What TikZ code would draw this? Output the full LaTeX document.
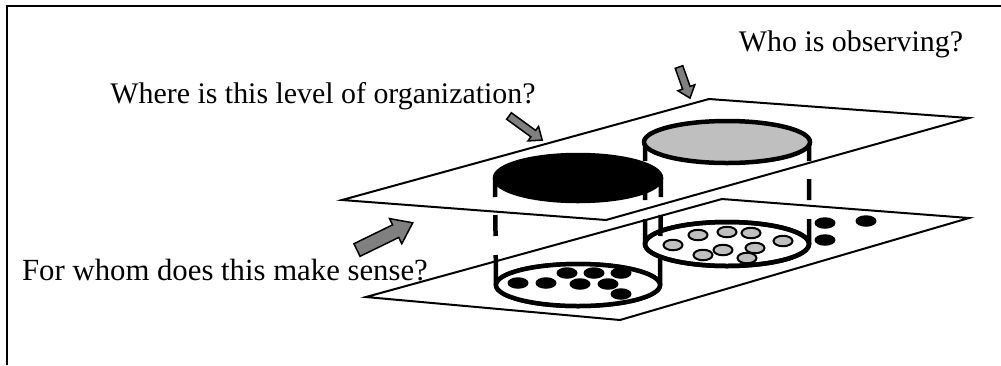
\documentclass[tikz,border=0pt]{standalone}
\usepackage{fontspec}
\setmainfont{Liberation Serif}
\usetikzlibrary{shapes.geometric}

\tikzset{
  plane/.style={draw, line width=0.4mm, line join=miter},
  lid/.style={ellipse, draw, line width=0.9mm, inner sep=0pt, outer sep=0pt},
  wall/.style={line width=0.9mm, dash pattern=on 3.8mm off 3.6mm on 4.2mm off 3.8mm on 8mm off 1mm},
  pointer/.style={draw, fill=black!50, line width=0.3mm, line join=miter},
  question/.style={font=\fontsize{17pt}{20pt}\selectfont, inner sep=0pt}
}

% tail x, tail y, angle, length, shaft half, head half, head length
\newcommand{\fatarrow}[7]{%
  \draw[pointer, shift={(#1,#2)}, rotate=#3]
    (0,-#5) -- (#4-#7,-#5) -- (#4-#7,-#6) -- (#4,0) -- (#4-#7,#6) -- (#4-#7,#5) -- (0,#5) -- cycle;}

\begin{document}
\begin{tikzpicture}[x=0.2mm, y=-0.2mm]

        \useasboundingbox (0,0) rectangle (1001,365);
        \draw[line width=0.4mm] (7,365) -- (7,6) -- (1001,6);

        % the two levels
        \draw[plane] (342,200) -- (709,99) -- (969,118) -- (606,220) -- cycle;
        \draw[plane] (366,297) -- (722,199) -- (969,218) -- (620,320) -- cycle;

        \begin{scope}[every node/.style={lid}]
          \node[fill=white, minimum width=32.8mm, minimum height=8.8mm] (rightbase) at (727,244) {};
          \node[fill=white, minimum width=32.8mm, minimum height=8.4mm] (leftbase)  at (578,285) {};
        \end{scope}

        % right cylinder
        \draw[wall] (727-82,142) -- (rightbase.west);
        \draw[wall] (727+82,142) -- (rightbase.east);
        \node[lid, fill=black!25, minimum width=33.2mm, minimum height=8.4mm] (graylid) at (727,142) {};

        % left cylinder
        \draw[wall] (578-83,178) -- (leftbase.west);
        \draw[wall] (578+83,178) -- (leftbase.east);
        \node[lid, fill=black, minimum width=33.2mm, minimum height=9.2mm] (blacklid) at (578,178) {};

        \node[lid, minimum width=32.8mm, minimum height=8.8mm] (rightrim) at (727,244) {};
        \node[lid, fill=white, minimum width=32.8mm, minimum height=8.4mm] (leftrim) at (578,285) {};

        \begin{scope}[every node/.style={ellipse, fill=black, inner sep=0pt,
            minimum width=4.2mm, minimum height=2.3mm}]
          \node (d1) at (518,283) {};
          \node (d2) at (546,283) {};
          \node (d3) at (567,273) {};
          \node (d4) at (594,273) {};
          \node (d5) at (621,273) {};
          \node (d6) at (580,284) {};
          \node (d7) at (608,284) {};
          \node (d8) at (621,294) {};
          \node (p1) at (825,223) {};
          \node (p2) at (866,221) {};
          \node (p3) at (825,240) {};
        \end{scope}

        \begin{scope}[every node/.style={ellipse, draw, fill=black!25, line width=0.4mm,
            inner sep=0pt, minimum width=3.8mm, minimum height=2.1mm}]
          \node (g1) at (673,245) {};
          \node (g2) at (698,235) {};
          \node (g3) at (727,232) {};
          \node (g4) at (751,233) {};
          \node (g5) at (783,241) {};
          \node (g6) at (703,255) {};
          \node (g7) at (723,250) {};
          \node (g8) at (755,248) {};
          \node (g9) at (747,258) {};
        \end{scope}

        % questions and pointers
        \node[question] (who)   at (851,44)  {Who is observing?};
        \node[question] (where) at (323,96)  {Where is this level of organization?};
        \node[question, font=\fontsize{17.5pt}{20pt}\selectfont] (whom) at (225,270) {For whom does this make sense?};

        \fatarrow{679}{67}{-70.5}{33}{4}{9}{11}
        \fatarrow{509}{116}{-36}{41}{4}{9}{11}
        \fatarrow{357}{250}{26}{62}{7}{14}{19}

      \end{tikzpicture}
\end{document}
